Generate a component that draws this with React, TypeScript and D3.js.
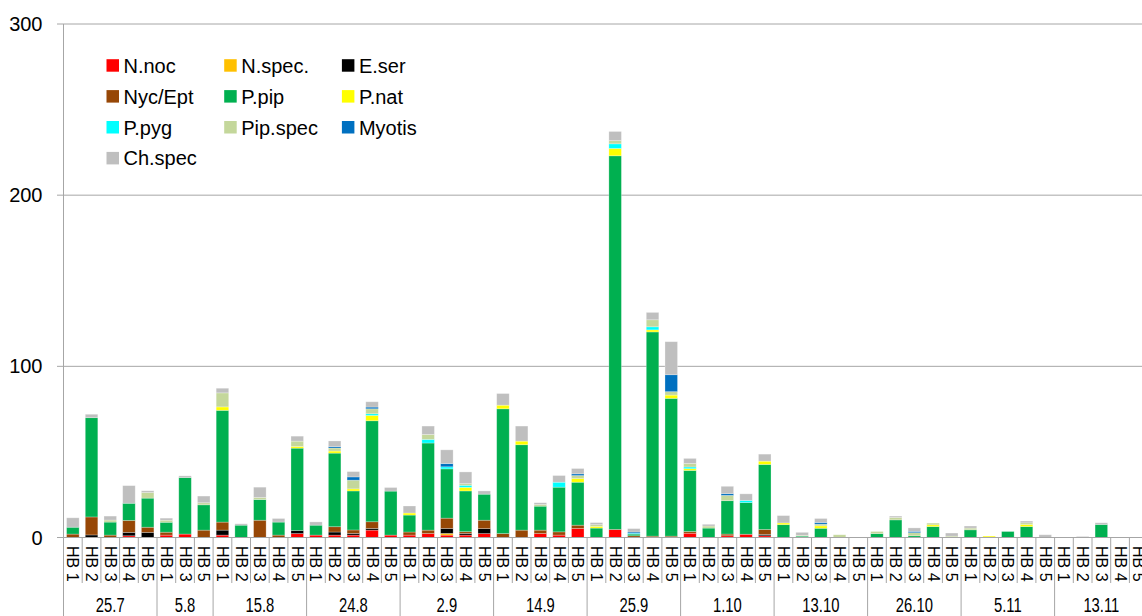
import * as d3 from "d3"

// species in stacking order (bottom -> top)
const speciesKeys = ["N.noc", "N.spec.", "E.ser", "Nyc/Ept", "P.pip", "P.nat", "P.pyg", "Pip.spec", "Myotis", "Ch.spec"]
const speciesColors = ["#ff0000", "#ffc000", "#000000", "#974706", "#00b050", "#ffff00", "#00ffff", "#c4d79b", "#0070c0", "#bfbfbf"]

const dates = ["25.7", "5.8", "15.8", "24.8", "2.9", "14.9", "25.9", "1.10", "13.10", "26.10", "5.11", "13.11"]
const hb = ["HB 1", "HB 2", "HB 3", "HB 4", "HB 5"]
const sitesPerDate = [hb, ["HB 1", "HB 3", "HB 5"], hb, hb, hb, hb, hb, hb, hb, hb, hb, hb]

const yTicks = [0, 100, 200, 300]

// one value per bar (58 bars), grouped by date
const nNoc = [0, 0, 0, 1, 0, 1.4, 2, 0, 1.4, 0, 0, 0, 2.3, 1.4, 1.4, 1.4, 4.3, 1.4, 1.4, 2.3, 1.4, 1.4, 2.3, 0, 0, 2.3, 1.4, 5.3, 0, 4.7, 0, 0, 0, 2.5, 0, 1, 1.9, 1, 0, 0, 0, 0, 0, 0, 0, 0, 0, 0, 0, 0, 0, 0, 0, 0, 0, 0, 0, 0]
const nSpec = [0, 0, 0, 0, 0, 0, 0, 0, 0, 0, 0, 0, 0, 0, 0, 0, 0, 0, 0, 0, 1, 0, 0, 0, 0, 0, 0, 0, 0, 0, 0, 0, 0, 0, 0, 0, 0, 0, 0, 0, 0, 0, 0, 0, 0, 0, 0, 0, 0, 0, 0, 0, 0, 0, 0, 0, 0, 0]
const eSer = [0, 1.5, 0, 2, 3, 0, 0, 0, 2.9, 0, 0, 0, 1.8, 0, 1.8, 1, 1, 0, 0, 0, 2.9, 1, 2.9, 0, 0, 0, 0, 0, 0, 0, 0, 0, 0, 0, 0, 0, 0, 0.8, 0, 0, 0, 0, 0, 0, 0, 0, 0, 0, 0, 0, 0, 0, 0, 0, 0, 0, 0, 0]
const nycEpt = [2, 10.5, 1.4, 7, 3, 1.7, 0, 4.3, 4.7, 0, 10.1, 1.4, 0, 0, 3.1, 2, 3.9, 0, 1.8, 2, 6, 1, 4.9, 2.3, 4.3, 2, 1.9, 1.9, 0, 0, 1, 0.8, 0.8, 1, 0, 1, 0, 2.9, 0, 0, 0, 0, 0, 0, 0, 0, 0, 0, 0, 0, 0, 0, 0, 0, 0, 0, 0, 0]
const pPip = [4, 58, 7.6, 10, 17, 5.8, 33, 14.8, 65.3, 7.2, 12.1, 7.6, 48.1, 5.8, 43, 22.8, 59, 25.7, 9.9, 50.9, 28.8, 23.8, 15.2, 72.9, 49.9, 14, 26.1, 25.1, 5.5, 218.3, 1, 119.3, 80.5, 35.7, 5.5, 19.5, 18.5, 38, 7.5, 0.8, 5.4, 0, 0, 2.3, 10.3, 1, 6.4, 0, 4.5, 0, 3.5, 6.4, 0, 0, 0, 7.6, 0, 0]
const pNat = [0, 0, 0, 0, 0, 0, 0, 0, 2, 0, 0, 0, 1, 0, 1.2, 1.2, 3.1, 0, 1.2, 0, 0, 2.1, 0, 2.1, 2.1, 0, 0, 2.1, 1, 4.3, 0, 1.2, 1.9, 1, 0, 0, 0, 1.9, 1, 0, 1.4, 0, 0, 0, 0, 0, 1, 0, 0, 0.8, 0, 1.2, 0, 0, 0, 0, 0, 0]
const pPyg = [0, 0, 0, 0, 0, 0, 0, 0, 0, 0, 0, 0, 0, 0, 0, 0, 1, 0, 0, 2.1, 1.2, 1.2, 0, 0, 0, 0, 2.9, 0, 0, 2.7, 0.5, 1.8, 0, 1, 0, 0, 1.2, 0, 0, 0, 0, 0, 0, 0, 0, 0, 0, 0, 0, 0, 0, 0, 0, 0, 0, 0, 0, 0]
const pipSpec = [0, 0, 1.2, 0, 3.3, 1.2, 0, 1.2, 8.2, 0, 1.2, 0, 3.1, 0, 1.8, 5.1, 2.9, 0, 0, 2.9, 0, 1, 0, 0, 0, 1, 0, 1.8, 1, 1.9, 0, 4.1, 2, 2.1, 1.2, 3.1, 0, 0, 0, 0.5, 1, 1.6, 0, 1.2, 1.4, 1.8, 1, 0.8, 1, 0, 0, 1, 0, 0, 0, 0, 0, 0]
const myotis = [0, 0, 0, 0, 0, 0, 0, 0, 0, 0, 0, 0, 0, 0, 0.8, 1.9, 1, 0, 0, 0, 1.9, 0, 0, 0, 0, 0, 0, 1, 0, 0, 0.7, 0, 9.9, 0, 0, 1, 0, 0, 0, 0, 1, 0, 0, 0, 0, 0.8, 0, 0, 0, 0, 0, 0, 0, 0, 0, 0, 0, 0]
const chSpec = [5.5, 2, 2.3, 10.3, 1, 1.2, 1, 3.9, 2.7, 0.8, 6, 2.1, 2.9, 1.9, 3.3, 3.1, 3.1, 2.1, 4.1, 4.9, 8, 6.8, 1.9, 6.8, 8.8, 1, 3.9, 3.1, 1.2, 5.3, 2, 4.3, 19.3, 2.9, 1, 4.3, 3.9, 4.1, 4.3, 1.7, 2.3, 0, 0, 0, 0.8, 2, 0, 1.8, 1.2, 0, 0, 1, 1.6, 0, 0.6, 1, 0, 0]

const seriesValues = [nNoc, nSpec, eSer, nycEpt, pPip, pNat, pPyg, pipSpec, myotis, chSpec]

const W = 1142
const H = 616
const FONT = "'Liberation Sans', Arial, sans-serif"
const GRID = "#a6a6a6"

export default function App() {
  const siteLabels = sitesPerDate.flat()
  const n = siteLabels.length

  const rows = siteLabels.map((_, i) => {
    const r: Record<string, number> = {}
    speciesKeys.forEach((k, j) => (r[k] = seriesValues[j][i]))
    return r
  })
  const stacked = d3.stack<Record<string, number>>().keys(speciesKeys)(rows)

  const x0 = 63.5
  const step = 18.7
  const x = d3
    .scaleBand<number>()
    .domain(d3.range(n))
    .range([x0, x0 + n * step])
    .paddingInner(0.33)
    .paddingOuter(0.165)
  const y = d3.scaleLinear().domain([0, 300]).range([537.5, 24])

  const slotLeft = (i: number) => x0 + i * x.step()

  // group boundaries
  const groups: { date: string; start: number; end: number }[] = []
  let idx = 0
  sitesPerDate.forEach((s, g) => {
    groups.push({ date: dates[g], start: idx, end: idx + s.length })
    idx += s.length
  })

  const color = d3.scaleOrdinal<string, string>().domain(speciesKeys).range(speciesColors)

  return (
    <div style={{ position: "fixed", left: 0, top: 0 }}>
      <svg width={W} height={H} style={{ display: "block", fontFamily: FONT }}>
        <rect width={W} height={H} fill="#fff" />

        {/* grid + y labels */}
        {yTicks.map((t) => (
          <g key={t}>
            {t > 0 && <line x1={57} x2={W} y1={y(t)} y2={y(t)} stroke={GRID} strokeWidth={1} />}
            <text x={42.5} y={y(t) + 7} textAnchor="end" fontSize={20} fill="#000">
              {t}
            </text>
          </g>
        ))}

        {/* bars */}
        {stacked.map((layer) => (
          <g key={layer.key} fill={color(layer.key)}>
            {layer.map((d, i) =>
              d[1] - d[0] > 0 ? (
                <rect
                  key={i}
                  x={x(i)}
                  width={x.bandwidth()}
                  y={y(d[1])}
                  height={y(d[0]) - y(d[1])}
                  stroke="#ffffff"
                  strokeOpacity={0.35}
                  strokeWidth={0.75}
                />
              ) : null
            )}
          </g>
        ))}

        {/* axes */}
        <line x1={x0} x2={x0} y1={24} y2={H} stroke={GRID} strokeWidth={1} />
        <line x1={57} x2={W} y1={y(0)} y2={y(0)} stroke={GRID} strokeWidth={1} />

        {/* inner separators */}
        {d3.range(1, n + 1).map((i) => {
          const isGroupEdge = groups.some((g) => g.end === i)
          return (
            <line
              key={i}
              x1={slotLeft(i)}
              x2={slotLeft(i)}
              y1={y(0)}
              y2={isGroupEdge ? H : 583}
              stroke={GRID}
              strokeWidth={1}
            />
          )
        })}

        {/* site labels */}
        {siteLabels.map((s, i) => (
          <text
            key={i}
            transform={`translate(${x(i)! + x.bandwidth() / 2}, 546) rotate(90)`}
            dominantBaseline="central"
            fontSize={16}
            fill="#000"
          >
            {s}
          </text>
        ))}

        {/* date labels */}
        {groups.map((g) => {
          const cx = (slotLeft(g.start) + slotLeft(g.end)) / 2
          return (
            <text
              key={g.date}
              transform={`translate(${cx}, 611.5) scale(0.76, 1)`}
              textAnchor="middle"
              fontSize={19.5}
              fill="#000"
            >
              {g.date}
            </text>
          )
        })}

        {/* legend */}
        {speciesKeys.map((k, i) => {
          const col = i % 3
          const row = Math.floor(i / 3)
          const lx = 106.5 + col * 117.7
          const by = 72.7 + row * 30.9
          return (
            <g key={k}>
              <rect x={lx} y={by - 13.5} width={12.5} height={12.5} fill={color(k)} />
              <text x={lx + 17} y={by} fontSize={20} fill="#000">
                {k}
              </text>
            </g>
          )
        })}
      </svg>
    </div>
  )
}
